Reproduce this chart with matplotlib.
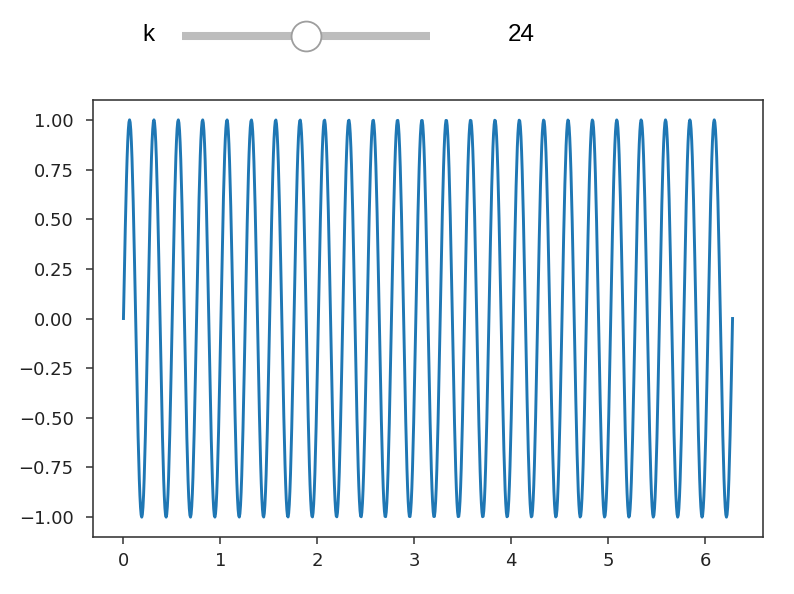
import numpy as np
import matplotlib
matplotlib.use("Agg")
from matplotlib import pyplot as plt

# slider state shown above the plot
slider_label = "k"
slider_value = 24
slider_min, slider_max = 0, 48

# curve: 25 full sine periods on [0, 2*pi]
cycles = 25
x_start, x_end = 0.0, 2 * np.pi
n_points = 1000

x = np.linspace(x_start, x_end, n_points)
y = np.sin(cycles * x)

fig = plt.figure(figsize=(7.94, 5.94), dpi=100)

# --- slider strip, pixel coordinates ---
top = fig.add_axes([0, 1 - 75 / 594, 1, 75 / 594])
top.set_xlim(0, 794)
top.set_ylim(75, 0)
top.axis("off")

track_x0, track_x1, track_y = 182, 430, 36
frac = (slider_value - slider_min) / (slider_max - slider_min)
knob_x = track_x0 + frac * (track_x1 - track_x0)
top.plot([track_x0, track_x1], [track_y, track_y], color="#bdbdbd",
         linewidth=5.8, solid_capstyle="butt")
top.plot([knob_x], [track_y], marker="o", markersize=21.5,
         markerfacecolor="white", markeredgecolor="#9e9e9e",
         markeredgewidth=1.3)
top.text(148.5, 35, slider_label, fontsize=17.5, family="Liberation Sans",
         ha="center", va="center")
top.text(521.5, 35, str(slider_value), fontsize=17.5, family="Liberation Sans",
         ha="center", va="center")

# --- main plot ---
ax = fig.add_axes([93 / 794, 57 / 594, 670 / 794, 437 / 594])
ax.plot(x, y, color="#1f77b4", linewidth=2.1)
ax.set_yticks([-1.0, -0.75, -0.5, -0.25, 0.0, 0.25, 0.5, 0.75, 1.0])
ax.tick_params(labelsize=13, length=5, width=1.1, colors="#333333",
               labelcolor="#222222")
ax.tick_params(axis="y", pad=9)
ax.tick_params(axis="x", pad=5.5)
for s in ax.spines.values():
    s.set_linewidth(1.15)
    s.set_color("#333333")

fig.savefig("out.png", dpi=100)
